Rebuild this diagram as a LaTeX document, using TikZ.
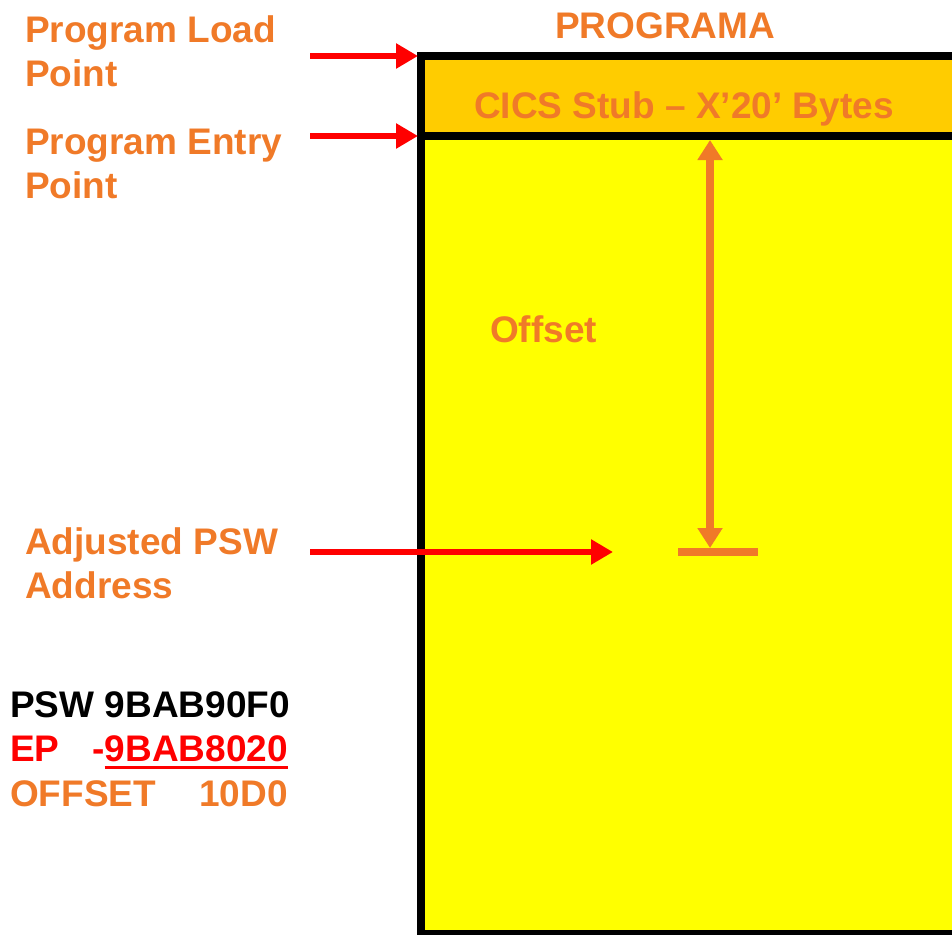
\documentclass[tikz,border=0pt]{standalone}
\usepackage{fontspec}
\setmainfont{Liberation Sans}
\usetikzlibrary{arrows.meta}
\definecolor{orng}{RGB}{240,122,40}
\definecolor{stub}{RGB}{255,204,0}
\definecolor{ylw}{RGB}{255,255,0}
\definecolor{rd}{RGB}{255,0,0}
\begin{document}
\begin{tikzpicture}[x=1pt,y=-1pt,
  lbl/.style={inner sep=0pt,anchor=base west,font=\fontsize{37}{43}\selectfont\bfseries},
  redarrow/.style={draw=rd,line width=6,-{Triangle[length=22,width=24]}},
  offarrow/.style={draw=orng,line width=8,{Triangle[length=20,width=24]}-{Triangle[length=20,width=24]}}]
\useasboundingbox (0,0) rectangle (952,934);
\clip (0,0) rectangle (952,934);
% box
\fill[stub] (421,56) rectangle (1000,136);
\fill[ylw] (421,136) rectangle (1000,1000);
\draw[line width=8] (1000,56) -- (421,56) -- (421,1000);
\draw[line width=8] (421,136) -- (1000,136);
\draw[line width=8] (421,934) -- (1000,934);
% texts
\node[lbl,orng,anchor=base] (prog) at (665,38) {PROGRAMA};
\node[lbl,orng,anchor=base] (stubt) at (684,118) {CICS Stub – X’20’ Bytes};
\node[lbl,orng] (load1) at (25,43) {Program Load};
\node[lbl,orng] (load2) at (25,86) {Point};
\node[lbl,orng] (entry1) at (25,154) {Program Entry};
\node[lbl,orng] (entry2) at (25,198) {Point};
\node[lbl,orng] (offt) at (490,342) {Offset};
\node[lbl,orng] (adj1) at (25,554) {Adjusted PSW};
\node[lbl,orng] (adj2) at (25,598) {Address};
\node[lbl,black] (psw) at (10,717) {PSW 9BAB90F0};
\node[lbl,rd] (ep) at (10,761) {EP};
\node[lbl,rd,anchor=base east] (epv) at (288,761) {9BAB8020};
\node[lbl,rd,anchor=base east] (epm) at (epv.base west) {-};
\draw[rd,line width=3] ([yshift=-6]epv.base west) -- ([yshift=-6]epv.base east);
\node[lbl,orng] (offs) at (10,806) {OFFSET};
\node[lbl,orng,anchor=base east] (offv) at (288,806) {10D0};
% arrows
\coordinate (a1s) at (310,56); \coordinate (a1e) at (418,56);
\coordinate (a2s) at (310,136); \coordinate (a2e) at (418,136);
\coordinate (a3s) at (310,552); \coordinate (a3e) at (613,552);
\draw[redarrow] (a1s) -- (a1e);
\draw[redarrow] (a2s) -- (a2e);
\draw[redarrow] (a3s) -- (a3e);
\coordinate (ot) at (710,140); \coordinate (ob) at (710,548);
\draw[offarrow] (ot) -- (ob);
\coordinate (bl) at (678,552); \coordinate (br) at (758,552);
\draw[orng,line width=8] (bl) -- (br);
\end{tikzpicture}
\end{document}
